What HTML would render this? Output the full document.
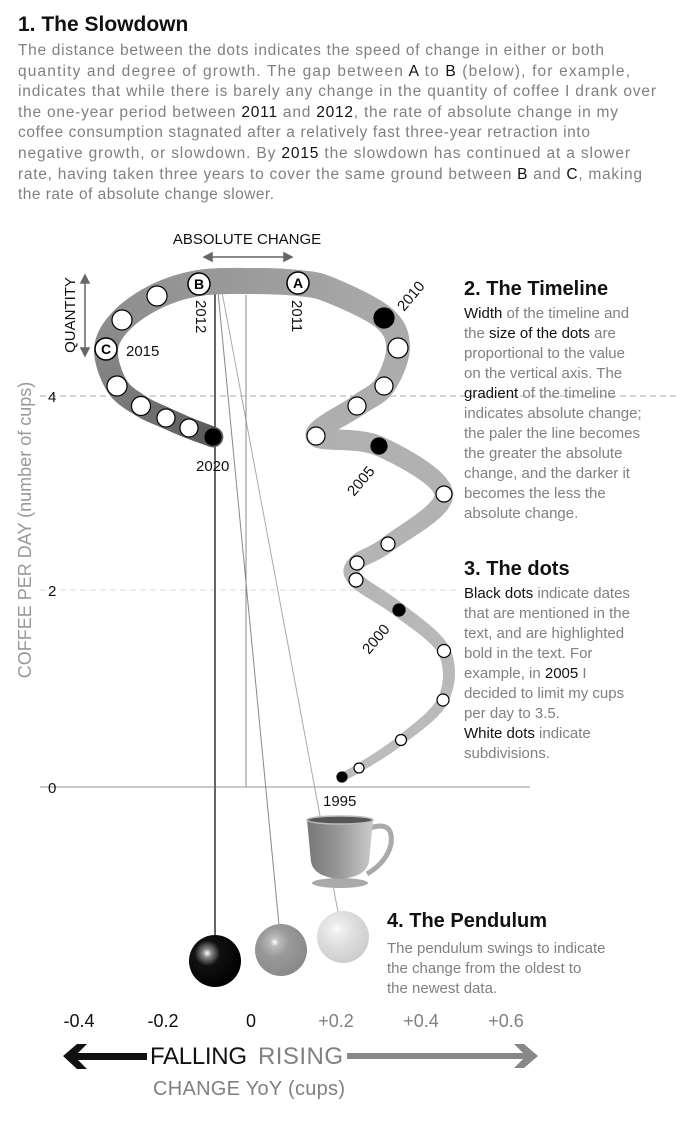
<!DOCTYPE html>
<html><head><meta charset="utf-8"><style>
html,body{margin:0;padding:0;background:#fff;}
svg{display:block;font-family:"Liberation Sans",sans-serif;}
.g{fill:#808080}.k{fill:#111}
</style></head><body>
<svg id="s" width="676" height="1126" viewBox="0 0 676 1126" xmlns="http://www.w3.org/2000/svg">
<defs>
<radialGradient id="bk" cx="0.35" cy="0.35" r="0.7"><stop offset="0" stop-color="#fff"/><stop offset="0.12" stop-color="#888"/><stop offset="0.35" stop-color="#111"/><stop offset="1" stop-color="#000"/></radialGradient>
<radialGradient id="gy" cx="0.38" cy="0.35" r="0.7"><stop offset="0" stop-color="#fff"/><stop offset="0.12" stop-color="#bbb"/><stop offset="0.4" stop-color="#999"/><stop offset="1" stop-color="#888"/></radialGradient>
<radialGradient id="lt" cx="0.38" cy="0.35" r="0.7"><stop offset="0" stop-color="#fff"/><stop offset="0.15" stop-color="#eee"/><stop offset="0.5" stop-color="#ddd"/><stop offset="1" stop-color="#ccc"/></radialGradient>
<linearGradient id="cup" x1="0" x2="1"><stop offset="0" stop-color="#777"/><stop offset="0.5" stop-color="#999"/><stop offset="1" stop-color="#ccc"/></linearGradient>
</defs>

<text x="18" y="31" font-size="21" font-weight="bold" class="k">1. The Slowdown</text>
<g font-size="15.5" class="g">
<text x="18" y="55" textLength="586">The distance between the dots indicates the speed of change in either or both</text>
<text x="18" y="76" textLength="612">quantity and degree of growth. The gap between <tspan class="k">A</tspan> to <tspan class="k">B</tspan> (below), for example,</text>
<text x="18" y="96" textLength="638">indicates that while there is barely any change in the quantity of coffee I drank over</text>
<text x="18" y="117" textLength="600">the one-year period between <tspan class="k">2011</tspan> and <tspan class="k">2012</tspan>, the rate of absolute change in my</text>
<text x="18" y="137" textLength="572">coffee consumption stagnated after a relatively fast three-year retraction into</text>
<text x="18" y="158" textLength="612">negative growth, or slowdown. By <tspan class="k">2015</tspan> the slowdown has continued at a slower</text>
<text x="18" y="179" textLength="624">rate, having taken three years to cover the same ground between <tspan class="k">B</tspan> and <tspan class="k">C</tspan>, making</text>
<text x="18" y="199" textLength="256">the rate of absolute change slower.</text>
</g>

<line x1="40" y1="396" x2="676" y2="396" stroke="#aaa" stroke-dasharray="6,4"/>
<line x1="40" y1="590" x2="460" y2="590" stroke="#ddd" stroke-dasharray="6,4"/>
<line x1="40" y1="787" x2="530" y2="787" stroke="#aaa" stroke-width="1.2"/>
<text x="48" y="402" font-size="15" class="k">4</text>
<text x="48" y="596" font-size="15" class="k">2</text>
<text x="48" y="793" font-size="15" class="k">0</text>
<text transform="translate(31,530) rotate(-90)" text-anchor="middle" font-size="18" fill="#999">COFFEE PER DAY (number of cups)</text>

<text x="247" y="244" text-anchor="middle" font-size="15" class="k">ABSOLUTE CHANGE</text>
<g stroke="#666" stroke-width="1.5" fill="#666">
<line x1="210" y1="257" x2="286" y2="257"/><path d="M204 257l8-4v8z M292 257l-8-4v8z"/>
<line x1="85" y1="281" x2="85" y2="350"/><path d="M85 275l-4 8h8z M85 356l-4-8h8z"/>
</g>
<text transform="translate(75,315) rotate(-90)" text-anchor="middle" font-size="15" class="k">QUANTITY</text>

<line x1="215" y1="286" x2="215" y2="940" stroke="#666" stroke-width="2"/>
<line x1="218" y1="292" x2="279" y2="925" stroke="#888" stroke-width="1"/>
<line x1="222" y1="292" x2="338" y2="912" stroke="#aaa" stroke-width="1"/>
<line x1="246" y1="295" x2="246" y2="787" stroke="#888" stroke-width="1"/>

<g id="tl"></g>
<g id="dots"></g>

<g font-size="15" class="k">
<text transform="translate(196,300) rotate(90)">2012</text>
<text transform="translate(292,300) rotate(90)">2011</text>
<text transform="translate(404,312) rotate(-50)">2010</text>
<text x="126" y="356">2015</text>
<text x="196" y="471">2020</text>
<text transform="translate(354,497) rotate(-50)">2005</text>
<text transform="translate(369,655) rotate(-50)">2000</text>
<text x="323" y="806">1995</text>
</g>

<!-- cup -->
<ellipse cx="340" cy="883" rx="28" ry="5" fill="#aaa"/>
<path d="M370 828 q24 -8 21 16 q-4 18 -24 30" fill="none" stroke="#aaa" stroke-width="5"/>
<path d="M307 820 h66 l-4 42 q-3 15 -29 17 q-26 -2 -29 -17z" fill="url(#cup)"/>
<ellipse cx="340" cy="820" rx="33" ry="4" fill="#555" stroke="#bbb" stroke-width="1.5"/>

<circle cx="215" cy="961" r="26" fill="url(#bk)"/>
<circle cx="281" cy="950" r="26" fill="url(#gy)"/>
<circle cx="343" cy="937" r="26" fill="url(#lt)"/>

<text x="464" y="295" font-size="20" font-weight="bold" class="k">2. The Timeline</text>
<g font-size="15" class="g">
<text x="464" y="318"><tspan class="k">Width</tspan> of the timeline and</text>
<text x="464" y="338">the <tspan class="k">size of the dots</tspan> are</text>
<text x="464" y="358">proportional to the value</text>
<text x="464" y="378">on the vertical axis. The</text>
<text x="464" y="398"><tspan class="k">gradient</tspan> of the timeline</text>
<text x="464" y="418">indicates absolute change;</text>
<text x="464" y="438">the paler the line becomes</text>
<text x="464" y="458">the greater the absolute</text>
<text x="464" y="478">change, and the darker it</text>
<text x="464" y="498">becomes the less the</text>
<text x="464" y="518">absolute change.</text>
</g>
<text x="464" y="575" font-size="20" font-weight="bold" class="k">3. The dots</text>
<g font-size="15" class="g">
<text x="464" y="598"><tspan class="k">Black dots</tspan> indicate dates</text>
<text x="464" y="618">that are mentioned in the</text>
<text x="464" y="638">text, and are highlighted</text>
<text x="464" y="658">bold in the text. For</text>
<text x="464" y="678">example, in <tspan class="k">2005</tspan> I</text>
<text x="464" y="698">decided to limit my cups</text>
<text x="464" y="718">per day to 3.5.</text>
<text x="464" y="738" class="k">White dots <tspan class="g">indicate</tspan></text>
<text x="464" y="758">subdivisions.</text>
</g>
<text x="387" y="927" font-size="20" font-weight="bold" class="k">4. The Pendulum</text>
<g font-size="15" class="g">
<text x="387" y="953">The pendulum swings to indicate</text>
<text x="387" y="973">the change from the oldest to</text>
<text x="387" y="993">the newest data.</text>
</g>

<g font-size="18" text-anchor="middle">
<text x="79" y="1027" class="k">-0.4</text>
<text x="163" y="1027" class="k">-0.2</text>
<text x="251" y="1027" class="k">0</text>
<text x="336" y="1027" class="g">+0.2</text>
<text x="421" y="1027" class="g">+0.4</text>
<text x="506" y="1027" class="g">+0.6</text>
</g>
<path d="M63 1056 l14 -12 h10 l-9 9 h69 v7 h-69 l9 9 h-10z" fill="#111"/>
<text x="150" y="1064" font-size="24" class="k" textLength="97">FALLING</text>
<text x="258" y="1064" font-size="24" class="g" textLength="85">RISING</text>
<path d="M347 1053 h176 l-9 -9 h10 l14 12 l-14 12 h-10 l9 -9 h-176z" fill="#888"/>
<text x="249" y="1095" text-anchor="middle" font-size="20" class="g" textLength="192">CHANGE YoY (cups)</text>
</svg>
<script>
(function(){
var NS="http://www.w3.org/2000/svg";
var P=[[342,777],[359,768],[401,740],[443,700],[444,651],[399,610],[356,580],[356,563],[388,544],[444,494],[379,446],[316,436],[357,406],[384,386],[398,348],[384,318],[330,290],[298,283],[250,281],[199,283],[157,296],[122,320],[106,349],[117,386],[141,406],[166,418],[189,428],[213,437]];
var pts=[];
for(var i=0;i<P.length-1;i++){
 var p0=P[Math.max(0,i-1)],p1=P[i],p2=P[i+1],p3=P[Math.min(P.length-1,i+2)];
 for(var t=0;t<1;t+=0.1){
  var t2=t*t,t3=t2*t;
  var x=0.5*((2*p1[0])+(-p0[0]+p2[0])*t+(2*p0[0]-5*p1[0]+4*p2[0]-p3[0])*t2+(-p0[0]+3*p1[0]-3*p2[0]+p3[0])*t3);
  var y=0.5*((2*p1[1])+(-p0[1]+p2[1])*t+(2*p0[1]-5*p1[1]+4*p2[1]-p3[1])*t2+(-p0[1]+3*p1[1]-3*p2[1]+p3[1])*t3);
  pts.push([x,y,i+t]);
 }
}
pts.push([213,437,P.length-1]);
var g=document.getElementById("tl"),N=P.length-1;
for(var k=0;k<pts.length-1;k++){
 var f=pts[k][2]/N;
 var v=(787-pts[k][1])/(787-283);
 var w=8+18*v;
 var c;
 if(f<0.55)c=190-20*(f/0.55);else if(f<0.8)c=170-30*((f-0.55)/0.25);else c=140-50*((f-0.8)/0.2);
 c=Math.round(c);
 var l=document.createElementNS(NS,"line");
 l.setAttribute("x1",pts[k][0]);l.setAttribute("y1",pts[k][1]);
 l.setAttribute("x2",pts[k+1][0]);l.setAttribute("y2",pts[k+1][1]);
 l.setAttribute("stroke","rgb("+c+","+c+","+c+")");
 l.setAttribute("stroke-width",w);l.setAttribute("stroke-linecap","round");
 g.appendChild(l);
}
var D=[[342,777,5,1],[359,768,5,0],[401,740,5.5,0],[443,700,6,0],[444,651,6.5,0],[399,610,6,1],[356,580,7,0],[357,563,7,0],[388,544,7,0],[444,494,8,0],[379,446,8,1],[316,436,9,0],[357,406,9,0],[384,386,9,0],[398,348,10,0],[384,318,10,1],[157,296,10,0],[122,320,10,0],[117,386,10,0],[141,406,9.5,0],[166,418,9,0],[189,428,9,0],[213,437,8,1]];
var dg=document.getElementById("dots");
D.forEach(function(d){var c=document.createElementNS(NS,"circle");c.setAttribute("cx",d[0]);c.setAttribute("cy",d[1]);c.setAttribute("r",d[2]);c.setAttribute("fill",d[3]?"#000":"#fff");c.setAttribute("stroke","#000");c.setAttribute("stroke-width","1.2");dg.appendChild(c);});
[[199,284,"B"],[298,283,"A"],[106,349,"C"]].forEach(function(d){var c=document.createElementNS(NS,"circle");c.setAttribute("cx",d[0]);c.setAttribute("cy",d[1]);c.setAttribute("r",11);c.setAttribute("fill","#fff");c.setAttribute("stroke","#000");c.setAttribute("stroke-width","1.5");dg.appendChild(c);var t=document.createElementNS(NS,"text");t.setAttribute("x",d[0]);t.setAttribute("y",d[1]+5);t.setAttribute("text-anchor","middle");t.setAttribute("font-size","14");t.setAttribute("font-weight","bold");t.textContent=d[2];dg.appendChild(t);});
})();
</script>
</body></html>
